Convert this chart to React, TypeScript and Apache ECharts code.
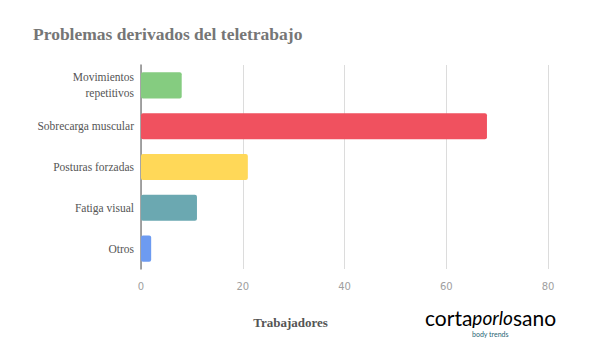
import React, { useEffect, useRef } from "react";
import * as echarts from "echarts";

const categories = ["Movimientos\nrepetitivos", "Sobrecarga muscular", "Posturas forzadas", "Fatiga visual", "Otros"];
const values = [8, 68, 21, 11, 2];
const barColors = ["#85CC80", "#F0515F", "#FFD858", "#6BA8B1", "#6D9BF1"];
const xTicks = { min: 0, max: 80, interval: 20 };

export default function App() {
  const ref = useRef<HTMLDivElement>(null);
  useEffect(() => {
    const chart = echarts.init(ref.current!, undefined, { renderer: "svg" });
    chart.setOption({
      animation: false,
      backgroundColor: "#ffffff",
      title: {
        text: "Problemas derivados del teletrabajo",
        left: 33,
        top: 25,
        padding: 0,
        textStyle: { fontFamily: "Liberation Serif", fontSize: 17.5, fontWeight: "bold", color: "#767676" },
      },
      grid: { left: 141, right: 44, top: 65, bottom: 87 },
      xAxis: {
        type: "value",
        min: xTicks.min,
        max: xTicks.max,
        interval: xTicks.interval,
        axisLine: { show: false },
        axisTick: { show: false },
        splitLine: { lineStyle: { color: "#dcdcdc", width: 1 } },
        axisLabel: { color: "#a0a0a0", fontSize: 10, fontFamily: "DejaVu Sans", margin: 12 },
        name: "Trabajadores",
        nameLocation: "middle",
        nameGap: 47,
        nameTextStyle: { fontFamily: "Liberation Serif", fontWeight: "bold", fontSize: 13, color: "#555555", padding: [0, 108, 0, 0] },
      },
      yAxis: {
        type: "category",
        data: categories,
        inverse: true,
        axisLine: { show: true, lineStyle: { color: "#888888", width: 1.5 } },
        axisTick: { show: false },
        axisLabel: { fontFamily: "Liberation Serif", fontSize: 11.5, color: "#555555", margin: 7, lineHeight: 16 },
      },
      series: [
        {
          type: "bar",
          data: values.map((v, i) => ({ value: v, itemStyle: { color: barColors[i] } })),
          barCategoryGap: "36%",
          itemStyle: { borderRadius: 2 },
        },
      ],
      graphic: [
        {
          type: "text",
          left: 425,
          top: 307,
          style: {
            text: "{a|corta}{b|porlo}{a|sano}",
            rich: {
              a: { fontFamily: "Lato", fontSize: 21, color: "#1f6674" },
              b: { fontFamily: "Lato", fontSize: 19, fontStyle: "italic", color: "#3cb3c9" },
            },
          },
        },
        {
          type: "text",
          left: 472,
          top: 330,
          style: { text: "body trends", fontFamily: "Lato", fontSize: 7, fill: "#1f6674" },
        },
      ],
    });
    return () => chart.dispose();
  }, []);
  return <div ref={ref} style={{ width: 592, height: 356, margin: -8 }} />;
}
